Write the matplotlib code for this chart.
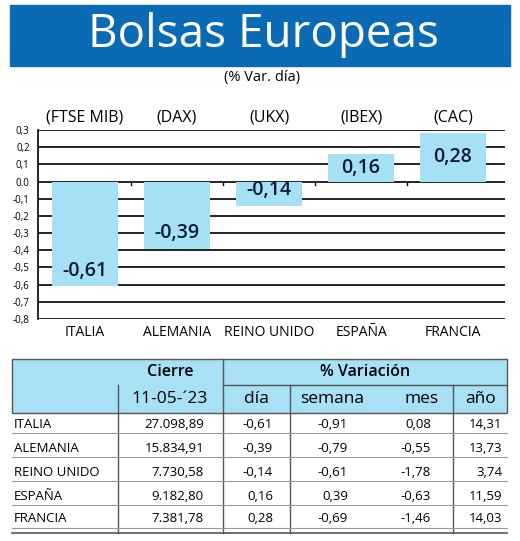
import matplotlib.pyplot as plt
from matplotlib.patches import Rectangle

paises = ['ITALIA', 'ALEMANIA', 'REINO UNIDO', 'ESPAÑA', 'FRANCIA']
indices = ['(FTSE MIB)', '(DAX)', '(UKX)', '(IBEX)', '(CAC)']
var_dia = [-0.61, -0.39, -0.14, 0.16, 0.28]
cierre = ['27.098,89', '15.834,91', '7.730,58', '9.182,80', '7.381,78']
dia = ['-0,61', '-0,39', '-0,14', '0,16', '0,28']
semana = ['-0,91', '-0,79', '-0,61', '0,39', '-0,69']
mes = ['0,08', '-0,55', '-1,78', '-0,63', '-1,46']
anio = ['14,31', '13,73', '3,74', '11,59', '14,03']
yticks = [0.3, 0.2, 0.1, 0.0, -0.1, -0.2, -0.3, -0.4, -0.5, -0.6, -0.7, -0.8]

plt.rcParams['font.family'] = ['Open Sans', 'DejaVu Sans']
W, H = 520, 541
fig = plt.figure(figsize=(5.2, 5.41), dpi=100)

def fx(px):
    return px / W

def fy(py):
    return 1 - py / H

# titulo
fig.patches.append(Rectangle((fx(10), fy(66)), fx(500), 61 / H, color='#0a6ab4',
                             transform=fig.transFigure))
fig.text(fx(264), fy(35), 'Bolsas Europeas', color='white', fontsize=33,
         ha='center', va='center', weight='medium')
fig.text(fx(262), fy(77), '(% Var. día)', fontsize=10.5, ha='center', va='center')

# grafico
ax = fig.add_axes([fx(38), fy(319), fx(505 - 38), (319 - 130) / H])
x = list(range(len(paises)))
for v in yticks:
    ax.axhline(v, color='black', lw=1.2, zorder=1)
ax.bar(x, var_dia, width=0.72, color='#a6e0f5', zorder=2)
for i, v in enumerate(var_dia):
    lbl = ('%.2f' % v).replace('.', ',')
    if v < 0:
        ax.text(i, v + 0.03, lbl, ha='center', va='bottom', fontsize=14,
                color='#0d1b3a', zorder=3, weight='semibold')
    else:
        ax.text(i, v / 2, lbl, ha='center', va='center', fontsize=14,
                color='#0d1b3a', zorder=3, weight='semibold')
    ax.text(i, 0.37, indices[i], ha='center', va='center', fontsize=11.5)
for i in range(len(paises) - 1):
    ax.plot([i + 0.5, i + 0.5], [0, -0.02], color='black', lw=1, zorder=1)
ax.set_xlim(-0.511, 4.565)
ax.set_ylim(-0.8, 0.3)
ax.set_yticks(yticks)
ax.set_yticklabels([('%.1f' % v).replace('.', ',') if v != 0 else '0.0' for v in yticks],
                   fontsize=7)
ax.tick_params(axis='y', length=0, pad=6)
ax.set_xticks(x)
ax.set_xticklabels(paises, fontsize=10)
ax.tick_params(axis='x', length=0, pad=4)
for s in ['top', 'right', 'bottom']:
    ax.spines[s].set_visible(False)
ax.spines['left'].set_linewidth(1.2)

# tabla
fig.patches.append(Rectangle((fx(12), fy(413)), fx(495), 54 / H, facecolor='#a8e0f5',
                             edgecolor='#555555', lw=1, transform=fig.transFigure))
def hline(y, x0=12, x1=507, c='#555555', lw=1):
    fig.add_artist(plt.Line2D([fx(x0), fx(x1)], [fy(y), fy(y)], color=c, lw=lw))
def vline(xp, y0, y1, c='#555555'):
    fig.add_artist(plt.Line2D([fx(xp), fx(xp)], [fy(y0), fy(y1)], color=c, lw=1))
hline(385, 223, 507)
vline(223, 359, 533)
for xp in [118, 290, 453]:
    vline(xp, 385, 533)
fig.text(fx(170), fy(372), 'Cierre', fontsize=11.5, ha='center', va='center', weight='semibold')
fig.text(fx(365), fy(372), '% Variación', fontsize=11.5, ha='center', va='center', weight='semibold')
fig.text(fx(170), fy(399), '11-05-´23', fontsize=12.5, ha='center', va='center')
fig.text(fx(256), fy(399), 'día', fontsize=12.5, ha='center', va='center')
fig.text(fx(332), fy(399), 'semana', fontsize=12.5, ha='center', va='center')
fig.text(fx(422), fy(399), 'mes', fontsize=12.5, ha='center', va='center')
fig.text(fx(481), fy(399), 'año', fontsize=12.5, ha='center', va='center')
rows = [424, 448, 472, 496, 519]
for r, yp in enumerate(rows):
    fig.text(fx(14), fy(yp), paises[r], fontsize=9.5, ha='left', va='center')
    fig.text(fx(204), fy(yp), cierre[r], fontsize=9.5, ha='right', va='center')
    fig.text(fx(273), fy(yp), dia[r], fontsize=9.5, ha='right', va='center')
    fig.text(fx(348), fy(yp), semana[r], fontsize=9.5, ha='right', va='center')
    fig.text(fx(431), fy(yp), mes[r], fontsize=9.5, ha='right', va='center')
    fig.text(fx(502), fy(yp), anio[r], fontsize=9.5, ha='right', va='center')
    hline(yp + 9, c='#999999', lw=0.8)
hline(533, c='#555555', lw=1.2)

fig.savefig('out.png', dpi=100)
